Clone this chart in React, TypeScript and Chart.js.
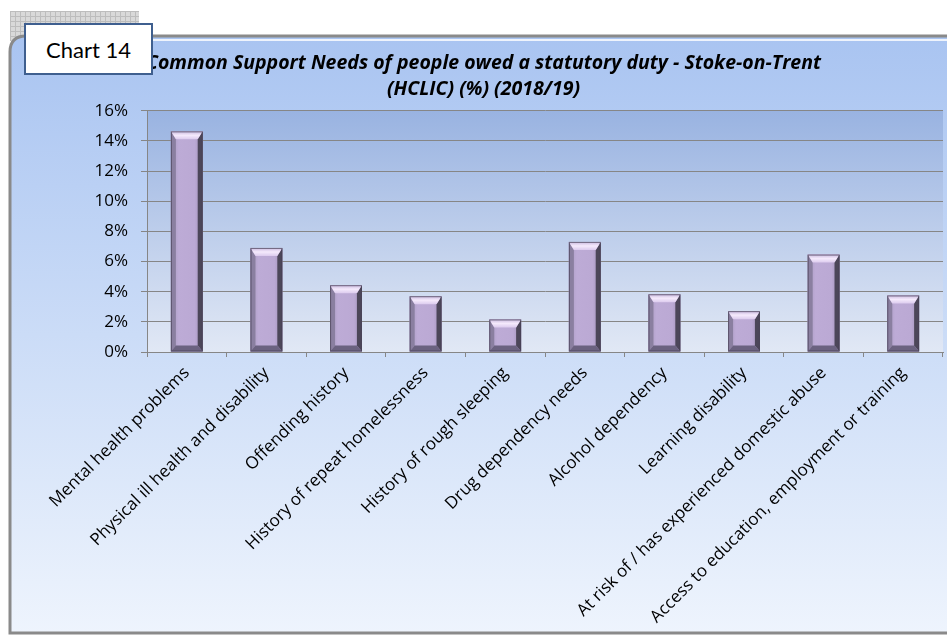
import React, { useEffect, useRef } from "react";
import { Chart, registerables } from "chart.js";

Chart.register(...registerables);

const titleLines = [
  "Common Support Needs of people owed a statutory duty - Stoke-on-Trent",
  "(HCLIC) (%) (2018/19)",
];
const categories = [
  "Mental health problems",
  "Physical ill health and disability",
  "Offending history",
  "History of repeat homelessness",
  "History of rough sleeping",
  "Drug dependency needs",
  "Alcohol dependency",
  "Learning disability",
  "At risk of / has experienced domestic abuse",
  "Access to education, employment or training",
];
const values = [14.63, 6.9, 4.43, 3.7, 2.16, 7.3, 3.83, 2.71, 6.46, 3.75];
const yMin = 0;
const yMax = 16;
const yStep = 2;

const FONT = "'Open Sans', Lato, sans-serif";

const backgroundPlugin = {
  id: "bgPanels",
  beforeDraw(chart: any) {
    const { ctx, chartArea, width } = chart;
    ctx.save();
    ctx.fillStyle = "#d9d9d9";
    ctx.fillRect(10, 11, 129, 30);
    ctx.strokeStyle = "#bdbdbd";
    ctx.lineWidth = 1;
    ctx.beginPath();
    for (let x = 10.5; x <= 139; x += 5) {
      ctx.moveTo(x, 11);
      ctx.lineTo(x, 41);
    }
    for (let y = 11.5; y <= 41; y += 5) {
      ctx.moveTo(10, y);
      ctx.lineTo(139, y);
    }
    ctx.stroke();

    const px = 10, py = 36, pw = width + 20, ph = 633 - 36, r = 16;
    ctx.beginPath();
    ctx.moveTo(px + r, py);
    ctx.lineTo(px + pw, py);
    ctx.lineTo(px + pw, py + ph);
    ctx.lineTo(px, py + ph);
    ctx.lineTo(px, py + r);
    ctx.quadraticCurveTo(px, py, px + r, py);
    ctx.closePath();
    const g = ctx.createLinearGradient(0, py, 0, py + ph);
    g.addColorStop(0, "#a9c4f1");
    g.addColorStop(0.5, "#cbdcf7");
    g.addColorStop(1, "#eef4fd");
    ctx.fillStyle = g;
    ctx.fill();
    ctx.strokeStyle = "#8a8a8a";
    ctx.lineWidth = 3;
    ctx.stroke();
    ctx.strokeStyle = "rgba(255,255,255,0.8)";
    ctx.lineWidth = 2;
    ctx.beginPath();
    ctx.moveTo(px + r, py + 4);
    ctx.lineTo(px + pw, py + 4);
    ctx.stroke();

    const { left, top, right, bottom } = chartArea;
    const pg = ctx.createLinearGradient(0, top, 0, bottom);
    pg.addColorStop(0, "#99b3e1");
    pg.addColorStop(1, "#e1e8f5");
    ctx.fillStyle = pg;
    ctx.fillRect(left, top, right - left, bottom - top);
    ctx.restore();
  },
};

const bevelPlugin = {
  id: "bevelBars",
  afterDatasetsDraw(chart: any) {
    const { ctx } = chart;
    const meta = chart.getDatasetMeta(0);
    ctx.save();
    meta.data.forEach((bar: any) => {
      const { x, y, base, width } = bar.getProps(["x", "y", "base", "width"], true);
      const l = x - width / 2;
      const r = x + width / 2;
      const t = y;
      const b = base;
      const h = b - t;
      const bt = Math.min(8, h / 3);
      const bs = Math.min(5, h / 3);
      const bb = Math.min(6, h / 3);
      const poly = (pts: number[][], fill: any) => {
        ctx.beginPath();
        ctx.moveTo(pts[0][0], pts[0][1]);
        for (let i = 1; i < pts.length; i++) ctx.lineTo(pts[i][0], pts[i][1]);
        ctx.closePath();
        ctx.fillStyle = fill;
        ctx.fill();
      };
      const fg = ctx.createLinearGradient(l, 0, r, 0);
      fg.addColorStop(0, "#a99ac0");
      fg.addColorStop(0.25, "#bdabd6");
      fg.addColorStop(0.75, "#bba9d4");
      fg.addColorStop(1, "#9c8db3");
      ctx.fillStyle = fg;
      ctx.fillRect(l, t, width, h);
      poly([[l, t], [l + bs, t + bt], [l + bs, b - bb], [l, b]], "#8a7fa0");
      poly([[r, t], [r - bs, t + bt], [r - bs, b - bb], [r, b]], "#4c4659");
      poly([[l, b], [l + bs, b - bb], [r - bs, b - bb], [r, b]], "#6b6280");
      const tg = ctx.createLinearGradient(0, t, 0, t + bt);
      tg.addColorStop(0, "#c9b8de");
      tg.addColorStop(0.5, "#f5eafc");
      tg.addColorStop(1, "#dccbee");
      poly([[l, t], [r, t], [r - bs, t + bt], [l + bs, t + bt]], tg);
      ctx.strokeStyle = "rgba(70,64,84,0.7)";
      ctx.lineWidth = 1;
      ctx.strokeRect(l + 0.5, t + 0.5, width - 1, h - 1);
    });
    ctx.restore();
  },
};

export default function App() {
  const canvasRef = useRef<HTMLCanvasElement | null>(null);

  useEffect(() => {
    if (!canvasRef.current) return;
    const chart = new Chart(canvasRef.current, {
      type: "bar",
      data: {
        labels: categories,
        datasets: [
          {
            data: values,
            backgroundColor: "#bcaad4",
            borderWidth: 0,
            barPercentage: 0.4,
            categoryPercentage: 1,
          },
        ],
      },
      options: {
        responsive: false,
        animation: false,
        layout: { padding: { top: 40, left: 24, right: 4, bottom: 0 } },
        plugins: {
          legend: { display: false },
          tooltip: { enabled: false },
          title: {
            display: true,
            text: titleLines,
            color: "#000",
            font: { family: FONT, size: 19.5, weight: "bold", style: "italic", lineHeight: 1.3 },
            padding: { top: 11, bottom: 9 },
          },
        },
        scales: {
          x: {
            type: "category",
            offset: true,
            grid: {
              display: true,
              drawOnChartArea: false,
              drawTicks: true,
              tickLength: 5,
              color: "#868686",
              offset: true,
            },
            border: { color: "#868686" },
            ticks: {
              autoSkip: false,
              maxRotation: 45,
              minRotation: 45,
              color: "#000",
              padding: 6,
              font: { family: FONT, size: 17 },
            },
            afterFit(scale: any) {
              scale.height = 284;
            },
          },
          y: {
            min: yMin,
            max: yMax,
            ticks: {
              stepSize: yStep,
              color: "#000",
              padding: 13,
              font: { family: FONT, size: 17 },
              callback: (v: any) => `${v}%`,
            },
            grid: { color: "#868686", tickLength: 6 },
            border: { color: "#868686" },
            afterFit(scale: any) {
              scale.width = 123;
            },
          },
        },
      },
      plugins: [backgroundPlugin, bevelPlugin],
    });
    return () => chart.destroy();
  }, []);

  return (
    <div style={{ position: "absolute", left: 0, top: 0, width: 947, height: 636, background: "#fff" }}>
      <canvas ref={canvasRef} width={947} height={636} style={{ display: "block" }} />
      <div
        style={{
          position: "absolute",
          left: 24,
          top: 23,
          width: 125,
          height: 48,
          background: "#fff",
          border: "2px solid #3f5f8f",
          display: "flex",
          alignItems: "center",
          justifyContent: "center",
          fontFamily: "Lato, sans-serif",
          fontSize: 22,
          color: "#000",
        }}
      >
        Chart 14
      </div>
    </div>
  );
}
